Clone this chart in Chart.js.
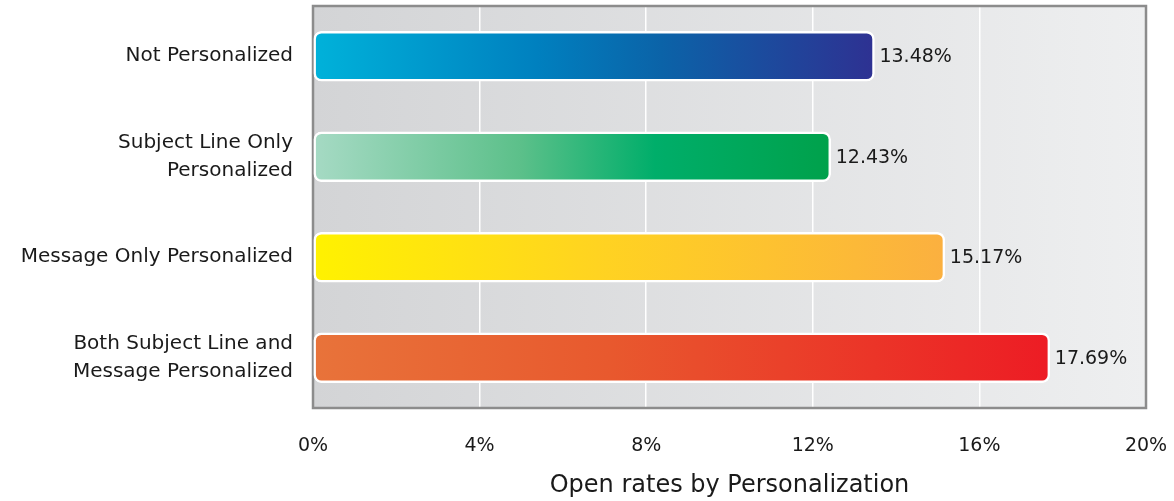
<!DOCTYPE html>
<html>
<head>
<meta charset="utf-8">
<script src="https://cdn.jsdelivr.net/npm/chart.js@4"></script>
<style>
  html,body{margin:0;padding:0;background:#fff;}
  #wrap{width:1174px;height:501px;}
</style>
</head>
<body>
<div id="wrap"><canvas id="chart" width="1174" height="501"></canvas></div>
<script>
// data
const categories = ["Not Personalized", ["Subject Line Only","Personalized"], "Message Only Personalized", ["Both Subject Line and","Message Personalized"]];
const openRates = [13.48, 12.43, 15.17, 17.69];
const xTicks = [0, 4, 8, 12, 16, 20];
const axisTitle = "Open rates by Personalization";

// gradient stops per bar (left -> right along the bar)
const barStops = [
  [[0,"#00b2da"],[0.4,"#0080bf"],[0.62,"#0b63a8"],[1,"#2e3192"]],
  [[0,"#a6dac4"],[0.4,"#5cc08a"],[0.66,"#00ae6a"],[1,"#00a14b"]],
  [[0,"#fff200"],[0.45,"#ffd321"],[1,"#fbb040"]],
  [[0,"#e8733a"],[0.4,"#e8592e"],[1,"#ed1c24"]]
];
const FONT = "'DejaVu Sans', sans-serif";

function barGradient(ctx){
  const chart = ctx.chart;
  const area = chart.chartArea;
  const i = ctx.dataIndex;
  if(!area || i === undefined) return barStops[i||0][0][1];
  const x0 = chart.scales.x.getPixelForValue(0);
  const x1 = chart.scales.x.getPixelForValue(openRates[i]);
  const g = chart.ctx.createLinearGradient(x0, 0, x1, 0);
  barStops[i].forEach(s => g.addColorStop(s[0], s[1]));
  return g;
}

// plot background + frame
const frame = {
  id:'frame',
  beforeDraw(chart){
    const {ctx, chartArea:a} = chart;
    const g = ctx.createLinearGradient(a.left,0,a.right,0);
    g.addColorStop(0,"#d3d4d6");
    g.addColorStop(1,"#eeeff0");
    ctx.save();
    ctx.fillStyle = g;
    ctx.fillRect(a.left,a.top,a.right-a.left,a.bottom-a.top);
    ctx.restore();
  },
  beforeDatasetsDraw(chart){
    const {ctx, chartArea:a} = chart;
    ctx.save();
    ctx.strokeStyle = "#8c8c8c";
    ctx.lineWidth = 2.5;
    ctx.strokeRect(a.left,a.top,a.right-a.left,a.bottom-a.top);
    ctx.restore();
  }
};

// value labels at bar ends
const valueLabels = {
  id:'valueLabels',
  afterDatasetsDraw(chart){
    const ctx = chart.ctx;
    const meta = chart.getDatasetMeta(0);
    ctx.save();
    ctx.font = "19px " + FONT;
    ctx.fillStyle = "#1a1a1a";
    ctx.textBaseline = "middle";
    meta.data.forEach((bar,i) => {
      ctx.fillText(openRates[i].toFixed(2) + "%", bar.x + 5, bar.y + 1);
    });
    ctx.restore();
  }
};

new Chart(document.getElementById("chart"),{
  type:"bar",
  data:{
    labels:categories,
    datasets:[{
      data:openRates,
      backgroundColor:barGradient,
      borderColor:"#ffffff",
      borderWidth:2.5,
      borderRadius:8,
      borderSkipped:false,
      barThickness:50
    }]
  },
  options:{
    indexAxis:"y",
    responsive:false,
    animation:false,
    layout:{padding:{top:6,right:28,left:0,bottom:0}},
    plugins:{legend:{display:false},tooltip:{enabled:false}},
    scales:{
      x:{
        min:0,max:20,
        afterBuildTicks(s){ s.ticks = xTicks.map(v => ({value:v})); },
        afterFit(s){ s.height = 93; s.paddingLeft = 0; s.paddingRight = 0; },
        grid:{color:c => (c.tick && (c.tick.value===0 || c.tick.value===20)) ? "rgba(0,0,0,0)" : "#ffffff", lineWidth:1.5, drawTicks:false},
        border:{display:false},
        ticks:{padding:27,color:"#1a1a1a",font:{family:FONT,size:19},callback:v => v + "%",maxRotation:0},
        title:{display:true,text:axisTitle,color:"#1a1a1a",font:{family:FONT,size:24},padding:{top:0,bottom:1}}
      },
      y:{
        afterFit(s){ s.width = 313; s.paddingTop = 0; s.paddingBottom = 0; },
        grid:{display:false,drawTicks:false},
        border:{display:false},
        ticks:{padding:20,color:"#1a1a1a",font:{family:FONT,size:20,lineHeight:1.4}}
      }
    }
  },
  plugins:[frame,valueLabels]
});
</script>
</body>
</html>
